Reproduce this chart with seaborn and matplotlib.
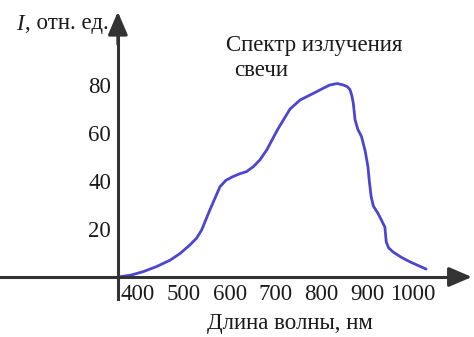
import matplotlib
matplotlib.use('Agg')
import matplotlib.pyplot as plt
import seaborn as sns

# candle emission spectrum
wavelength = [357, 385, 411, 440, 470, 492, 513, 528, 539, 557, 579, 592, 607, 622,
              637, 652, 666, 681, 705, 732, 754, 790, 805, 819, 835, 848, 857, 863,
              867, 870, 874, 880, 888, 896, 902, 905, 909, 914, 924, 932, 939, 942,
              947, 957, 975, 994, 1029]
intensity = [0, 0.8, 2.2, 4.3, 7, 9.8, 13.3, 16.2, 19.6, 28, 37.6, 40.3, 41.8, 43,
             43.9, 46, 48.75, 52.9, 61.5, 70, 73.75, 77.2, 78.7, 80, 80.6, 80, 79.3, 78,
             75.5, 72.5, 65.4, 61.5, 58.5, 52.5, 46, 40, 33.5, 29.5, 26.5, 23.5, 20.8, 14.6,
             12.2, 10.4, 8.2, 6.3, 3.3]

x_ticks = [400, 500, 600, 700, 800, 900, 1000]
y_ticks = [20, 40, 60, 80]

sns.set_style('white')
plt.rcParams['font.family'] = ['Liberation Serif', 'DejaVu Serif']

axis_col = '#333333'
text_col = '#1a1a1a'
fs = 16.5

fig = plt.figure(figsize=(4.74, 3.37), dpi=100)
ax = fig.add_axes([0, 0, 1, 1])
ax.patch.set_alpha(0)

sns.lineplot(x=wavelength, y=intensity, ax=ax, color='#4b45d2', linewidth=2)

ax.set_xlim(98.7, 1133.6)
ax.set_ylim(-25, 115.4)

# axes through the origin
ax.spines['top'].set_visible(False)
ax.spines['right'].set_visible(False)
ax.spines['left'].set_position(('data', 356))
ax.spines['bottom'].set_position(('data', 0))
ax.spines['left'].set_bounds(-9, 100)
ax.spines['bottom'].set_bounds(98.7, 1110)
for s in ['left', 'bottom']:
    ax.spines[s].set_color(axis_col)
    ax.spines[s].set_linewidth(2.2)

arrow = dict(arrowstyle='-|>,head_length=1.4,head_width=0.6', color=axis_col,
             lw=2.2, mutation_scale=10, shrinkA=0, shrinkB=0)
ax.annotate('', xy=(1129, 0), xytext=(1095, 0), arrowprops=arrow)
ax.annotate('', xy=(356, 110.5), xytext=(356, 97), arrowprops=arrow)

ax.set_xticks(x_ticks)
ax.set_yticks(y_ticks)
ax.tick_params(length=0, labelsize=fs, colors=text_col, pad=5)
ax.set_xlabel('')
ax.set_ylabel('')

fig.text(290 / 474, 1 - 323 / 337, 'Длина волны, нм', ha='center', va='center',
         fontsize=fs, color=text_col)
fig.text(16 / 474, 1 - 24 / 337, 'I', ha='left', va='center', fontsize=fs,
         style='italic', color=text_col)
fig.text(25 / 474, 1 - 24 / 337, ', отн. ед.', ha='left', va='center', fontsize=fs,
         color=text_col)
fig.text(226 / 474, 1 - 45 / 337, 'Спектр излучения', ha='left', va='center',
         fontsize=fs, color=text_col)
fig.text(234 / 474, 1 - 70 / 337, 'свечи', ha='left', va='center',
         fontsize=fs, color=text_col)

fig.savefig('out.png', dpi=100)
